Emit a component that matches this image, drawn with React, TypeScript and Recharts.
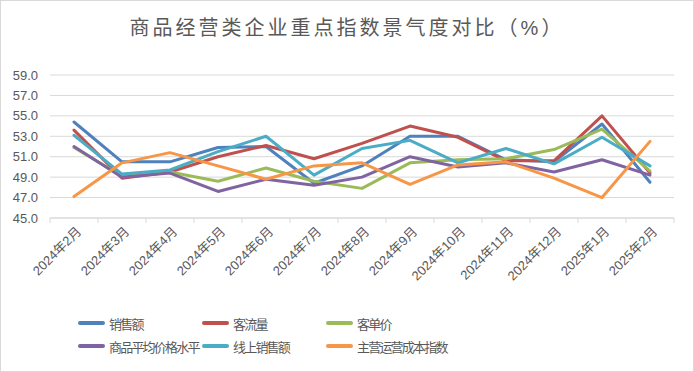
import React from "react";
import { LineChart, Line, XAxis, YAxis, CartesianGrid } from "recharts";

const months = [
  "2024年2月", "2024年3月", "2024年4月", "2024年5月", "2024年6月", "2024年7月", "2024年8月",
  "2024年9月", "2024年10月", "2024年11月", "2024年12月", "2025年1月", "2025年2月",
];

// 销售额
const sales = [54.4, 50.5, 50.5, 51.9, 52.0, 48.4, 50.1, 53.0, 53.0, 50.7, 50.5, 54.2, 48.5];
// 客流量
const traffic = [53.6, 48.9, 49.5, 51.0, 52.1, 50.8, 52.3, 54.0, 52.9, 50.6, 50.6, 55.0, 49.4];
// 客单价
const ticket = [51.9, 49.1, 49.5, 48.6, 49.9, 48.6, 47.9, 50.4, 50.7, 50.8, 51.7, 53.7, 49.6];
// 商品平均价格水平
const price = [52.0, 49.0, 49.4, 47.6, 48.8, 48.2, 49.0, 51.0, 50.0, 50.4, 49.5, 50.7, 49.2];
// 线上销售额
const online = [53.1, 49.3, 49.7, 51.5, 53.0, 49.2, 51.8, 52.6, 50.4, 51.8, 50.3, 52.9, 50.1];
// 主营运营成本指数
const cost = [47.1, 50.4, 51.4, 50.1, 48.8, 50.1, 50.4, 48.3, 50.2, 50.5, 48.9, 47.0, 52.5];

const yTicks = [45, 47, 49, 51, 53, 55, 57, 59];

const series = [
  { key: "sales", name: "销售额", color: "#4F81BD" },
  { key: "traffic", name: "客流量", color: "#C0504D" },
  { key: "ticket", name: "客单价", color: "#9BBB59" },
  { key: "price", name: "商品平均价格水平", color: "#8064A2" },
  { key: "online", name: "线上销售额", color: "#4BACC6" },
  { key: "cost", name: "主营运营成本指数", color: "#F79646" },
];

const data = months.map((m, i) => ({
  idx: i,
  month: m,
  sales: sales[i],
  traffic: traffic[i],
  ticket: ticket[i],
  price: price[i],
  online: online[i],
  cost: cost[i],
}));

// integer ticks carry the labels, half ticks are the category boundaries
const xTicks: number[] = [];
for (let i = 0; i <= months.length * 2; i++) xTicks.push(i / 2 - 0.5);

const FONT = '"Liberation Sans", "Noto Sans CJK SC", sans-serif';
const TEXT = "#595959";
const GRID = "#d9d9d9";

const XTick = (props: any) => {
  const { x, y, payload } = props;
  const v = payload.value;
  if (!Number.isInteger(v)) {
    return <line x1={x} x2={x} y1={y} y2={y + 5} stroke={GRID} />;
  }
  const ax = x + 5;
  const ay = y + 11;
  return (
    <text
      x={ax}
      y={ay}
      textAnchor="end"
      dominantBaseline="central"
      transform={`rotate(-45, ${ax}, ${ay})`}
      fill={TEXT}
      fontSize={13}
      fontFamily={FONT}
    >
      {months[v]}
    </text>
  );
};

export default function App() {
  return (
    <div style={{ position: "absolute", left: 0, top: 0, width: 694, height: 372, background: "#fff", fontFamily: FONT }}>
      <div style={{ position: "absolute", left: 0, top: 0, width: 692, height: 370, border: `1px solid ${GRID}` }} />
      <div
        style={{
          position: "absolute", left: 0, top: 14, width: 694, textAlign: "center",
          fontSize: 20, letterSpacing: 3, color: TEXT, lineHeight: "28px",
        }}
      >
        商品经营类企业重点指数景气度对比（%）
      </div>
      <LineChart width={694} height={372} data={data} margin={{ top: 75, right: 20, left: 0, bottom: 0 }}>
        <CartesianGrid vertical={false} stroke={GRID} />
        <XAxis
          type="number"
          dataKey="idx"
          domain={[-0.5, 12.5]}
          ticks={xTicks}
          interval={0}
          allowDecimals
          height={154}
          tickSize={0}
          tickMargin={0}
          tickLine={false}
          stroke={GRID}
          tick={<XTick />}
        />
        <YAxis
          width={50}
          domain={[45, 59]}
          ticks={yTicks}
          interval={0}
          axisLine={false}
          tickLine={false}
          tickMargin={6}
          tickFormatter={(v: number) => v.toFixed(1)}
          tick={{ fill: TEXT, fontSize: 13, fontFamily: FONT }}
        />
        {series.map((s) => (
          <Line
            key={s.key}
            dataKey={s.key}
            name={s.name}
            stroke={s.color}
            strokeWidth={3}
            strokeLinecap="round"
            strokeLinejoin="round"
            dot={false}
            activeDot={false}
            isAnimationActive={false}
          />
        ))}
      </LineChart>
      <div
        style={{
          position: "absolute", left: 78, top: 312, width: 380,
          display: "grid", gridTemplateColumns: "124px 124px 124px", rowGap: 1,
        }}
      >
        {series.map((s) => (
          <div key={s.key} style={{ display: "flex", alignItems: "center", height: 22, whiteSpace: "nowrap" }}>
            <span style={{ display: "inline-block", width: 27, height: 4, borderRadius: 2, background: s.color, marginRight: 4 }} />
            <span style={{ fontSize: 13, letterSpacing: -1.8, color: TEXT }}>{s.name}</span>
          </div>
        ))}
      </div>
    </div>
  );
}
